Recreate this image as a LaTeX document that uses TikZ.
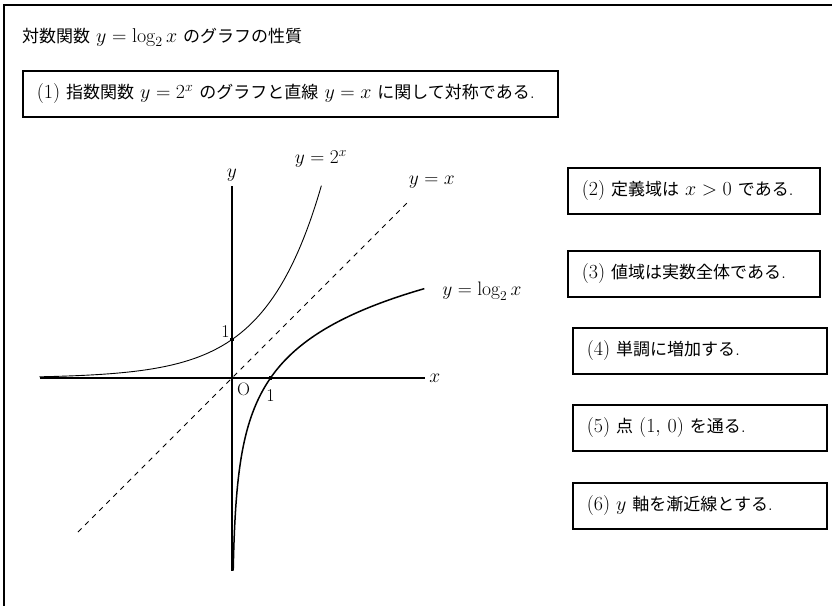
\RequirePackage{fix-cm}
\documentclass[tikz,border=0pt]{standalone}
\usepackage{fontspec}
\newfontfamily\jpfont[Scale=0.85]{Noto Sans CJK JP}
\newcommand{\jp}[1]{{\jpfont #1}}
\begin{document}
\begin{tikzpicture}[x=1pt,y=-1pt,
  frameline/.style={line width=1.6pt},
  propbox/.style={draw, line width=1.6pt, anchor=north west, inner xsep=14pt, inner ysep=0pt, minimum height=46pt, font=\fontsize{20}{24}\selectfont},
  axisline/.style={line width=1.5pt},
  expcurve/.style={line width=0.9pt},
  logcurve/.style={line width=1.5pt},
  diag/.style={line width=0.8pt, dash pattern=on 5pt off 5pt},
  lab/.style={font=\fontsize{19.5}{23}\selectfont, inner sep=0pt},
  ticklab/.style={font=\fontsize{18}{21}\selectfont, inner sep=0pt},
  tickmark/.style={rectangle, fill=black, inner sep=0pt, minimum size=3.2pt}
]
\useasboundingbox (0,0) rectangle (832,605);
\fill[white] (0,0) rectangle (832,605);
% outer frame (cut by the page at right and bottom)
\coordinate (fb) at (4,640);
\coordinate (fc) at (4,5);
\coordinate (fr) at (860,5);
\draw[frameline] (fb) -- (fc) -- (fr);

% title
\node[anchor=base west, inner sep=0pt, font=\fontsize{20}{24}\selectfont] (title) at (22,42)
  {\jp{対数関数} $y=\log_2 x$ \jp{のグラフの性質}};

% property boxes
\node[propbox] (p1) at (22,70)
  {\makebox[507pt][l]{(1) \jp{指数関数} $y=2^x$ \jp{のグラフと直線} $y=x$ \jp{に関して対称である}.}};
\node[propbox] (p2) at (567,167)
  {\makebox[224pt][l]{(2) \jp{定義域は} $x>0$ \jp{である}.}};
\node[propbox] (p3) at (567,250)
  {\makebox[224pt][l]{(3) \jp{値域は実数全体である}.}};
\node[propbox] (p4) at (572,327)
  {\makebox[226pt][l]{(4) \jp{単調に増加する}.}};
\node[propbox] (p5) at (572,404)
  {\makebox[226pt][l]{(5) \jp{点} $(1,\,0)$ \jp{を通る}.}};
\node[propbox] (p6) at (572,482)
  {\makebox[226pt][l]{(6) $y$ \jp{軸を漸近線とする}.}};

% graph
\begin{scope}[shift={(232,378)}, x=38.5pt, y=38.5pt]
  \coordinate (xl) at (-5,0);
  \coordinate (xr) at (5,0);
  \coordinate (yb) at (0,-5);
  \coordinate (yt) at (0,5);
  \coordinate (d1) at (-4,-4);
  \coordinate (d2) at (4.55,4.55);
  \draw[axisline] (xl) -- (xr);
  \draw[axisline] (yb) -- (yt);
  \draw[diag] (d1) -- (d2);
  \draw[expcurve] plot[domain=-5:2.3219, samples=150, smooth] (\x, {pow(2,\x)});
  \draw[logcurve] plot[domain=-5:2.3219, samples=150, smooth] ({pow(2,\x)}, \x);
  \node[tickmark] (tx) at (1,0) {};
  \node[tickmark] (ty) at (0,1) {};
  \node[lab] (xlab) at (5.27,0) {$x$};
  \node[lab] (ylab) at (0,5.27) {$y$};
  \node[ticklab] (onex) at (1.0,-0.46) {1};
  \node[ticklab] (oney) at (-0.17,1.2) {1};
  \node[ticklab] (orig) at (0.3,-0.29) {O};
  \node[lab] (lexp) at (2.31,5.69) {$y=2^x$};
  \node[lab] (lid) at (5.19,5.09) {$y=x$};
  \node[lab, anchor=base west] (llog) at (5.46,2.14) {$y=\log_2 x$};
\end{scope}
\end{tikzpicture}
\end{document}
